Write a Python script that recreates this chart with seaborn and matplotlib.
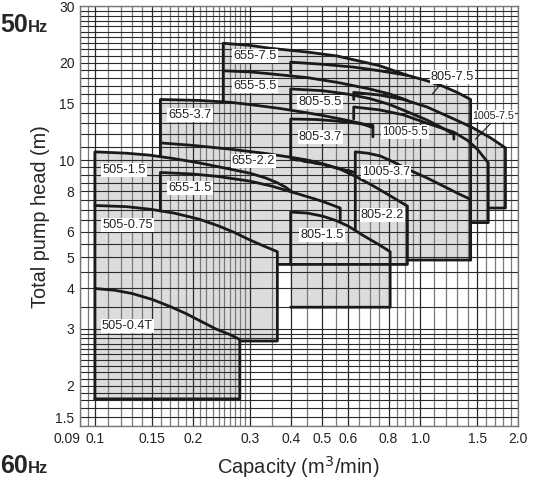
import numpy as np
import matplotlib
matplotlib.use("Agg")
import matplotlib.pyplot as plt
import seaborn as sns

sns.set_theme(style="white")
plt.rcParams["font.family"] = ["Liberation Sans", "DejaVu Sans"]

# ---- axis ticks / grid -------------------------------------------------
x_ticks = [0.09, 0.1, 0.15, 0.2, 0.3, 0.4, 0.5, 0.6, 0.8, 1.0, 1.5, 2.0]
x_tick_labels = ["0.09", "0.1", "0.15", "0.2", "0.3", "0.4", "0.5", "0.6", "0.8", "1.0", "1.5", "2.0"]
y_ticks = [1.5, 2, 3, 4, 5, 6, 8, 10, 15, 20, 30]
y_tick_labels = ["1.5", "2", "3", "4", "5", "6", "8", "10", "15", "20", "30"]

x_grid = ([0.09, 0.095] + [round(0.1 + 0.01 * i, 2) for i in range(21)]
          + [0.35, 0.4, 0.45, 0.5, 0.55, 0.6, 0.65, 0.7, 0.75, 0.8, 0.85, 0.9, 0.95, 1.0]
          + [1.1, 1.2, 1.3, 1.4, 1.5, 1.6, 1.7, 1.8, 1.9, 2.0])
x_grid_major = [0.1, 0.15, 0.2, 0.3, 0.4, 0.5, 0.6, 0.8, 1.0, 1.5, 2.0]
y_grid = ([round(1.5 + 0.1 * i, 1) for i in range(16)]
          + [3.5, 4, 4.5, 5, 5.5, 6, 6.5, 7, 7.5, 8, 8.5, 9, 9.5]
          + list(range(10, 31)))

# ---- operating ranges: (Q m3/min, H m) outline, NaN = gap in the outline ----
# fq/fh are hidden vertices that only close the shaded area
models = {
    "505-0.4T": dict(
        q=[0.1, 0.1, 0.115, 0.13, 0.15, 0.17, 0.19, 0.21, 0.235, 0.26, 0.279, 0.279, 0.1],
        h=[1.82, 4.0, 3.95, 3.86, 3.7, 3.52, 3.35, 3.18, 3.0, 2.88, 2.78, 1.82, 1.82],
        fq=[], fh=[]),
    "505-0.75": dict(
        q=[0.1, 0.1, 0.125, 0.148, 0.175, 0.209, 0.24, 0.27, 0.3, 0.33, 0.364, 0.364, 0.279],
        h=[4.0, 7.23, 7.17, 7.04, 6.85, 6.56, 6.25, 5.95, 5.65, 5.42, 5.2, 2.75, 2.75],
        fq=[0.1], fh=[2.75]),
    "505-1.5": dict(
        q=[0.1, 0.1, 0.125, 0.148, 0.175, 0.209, 0.25, 0.3, 0.335, 0.364, 0.385, 0.405],
        h=[7.23, 10.6, 10.5, 10.35, 10.1, 9.8, 9.45, 9.1, 8.8, 8.5, 8.25, 7.95],
        fq=[0.405, 0.1], fh=[4.75, 4.75]),
    "655-1.5": dict(
        q=[0.159, 0.159, 0.2, 0.238, 0.3, 0.35, 0.405, 0.45, 0.5, 0.568, 0.568],
        h=[6.95, 9.15, 9.05, 8.9, 8.6, 8.3, 7.95, 7.7, 7.45, 7.1, 6.45],
        fq=[0.568, 0.159], fh=[4.75, 4.75]),
    "655-2.2": dict(
        q=[0.159, 0.159, 0.2, 0.262, 0.33, 0.4, 0.45, 0.5, 0.57, 0.64, 0.72, 0.8, 0.914,
           0.914, 0.809, np.nan, 0.4, 0.364],
        h=[10.25, 11.3, 11.1, 10.8, 10.5, 10.2, 10.0, 9.75, 9.35, 8.85, 8.3, 7.8, 7.2,
           4.75, 4.75, np.nan, 4.75, 4.75],
        fq=[0.159], fh=[4.75]),
    "655-3.7": dict(
        q=[0.159, 0.159, 0.209, 0.26, 0.3, 0.37, 0.45, 0.5, 0.58, 0.654, 0.716],
        h=[11.3, 15.4, 15.3, 15.1, 14.85, 14.45, 14.0, 13.75, 13.35, 13.0, 12.6],
        fq=[0.716, 0.159], fh=[7.5, 7.5]),
    "655-5.5": dict(
        q=[0.248, 0.248, 0.3, 0.345, 0.45, 0.556, 0.7, 0.809, 0.914],
        h=[15.2, 18.9, 18.75, 18.5, 18.0, 17.4, 16.6, 16.0, 15.3],
        fq=[0.914, 0.248], fh=[12.0, 12.0]),
    "655-7.5": dict(
        q=[0.248, 0.248, 0.3, 0.345, 0.45, 0.556, 0.75, 0.914],
        h=[18.9, 23.0, 22.65, 22.2, 21.6, 21.0, 19.6, 18.3],
        fq=[0.914], fh=[17.0]),
    "805-1.5": dict(
        q=[0.4, 0.4, 0.45, 0.502, 0.55, 0.6, 0.666, 0.74, 0.809, 0.809, 0.4],
        h=[4.75, 6.9, 6.85, 6.7, 6.5, 6.25, 5.85, 5.5, 5.2, 3.5, 3.5],
        fq=[], fh=[]),
    "805-2.2": dict(
        q=[0.4, 0.5, 0.632],
        h=[10.1, 9.7, 9.15],
        fq=[0.632, 0.4], fh=[6.0, 6.0]),
    "805-3.7": dict(
        q=[0.4, 0.4, 0.48, 0.556, 0.64, 0.716, 0.716],
        h=[10.2, 13.4, 13.35, 13.2, 13.0, 12.8, 11.8],
        fq=[0.4], fh=[10.0]),
    "805-5.5": dict(
        q=[0.4, 0.4, 0.5, 0.6, 0.7, 0.8, 0.9, 1.05, 1.15, 1.27, 1.27],
        h=[14.3, 16.6, 16.4, 16.0, 15.5, 14.9, 14.2, 13.3, 12.7, 12.0, 11.6],
        fq=[1.27, 0.4], fh=[10.0, 10.0]),
    "805-7.5": dict(
        q=[0.4, 0.4, 0.5, 0.625, 0.75, 0.914, 1.05, 1.18, 1.3, 1.43, 1.43],
        h=[18.6, 20.1, 19.8, 19.4, 18.9, 18.3, 17.6, 16.9, 16.2, 15.4, 4.9],
        fq=[0.914, 0.4], fh=[4.9, 4.9]),
    "1005-3.7": dict(
        q=[0.632, 0.632, 0.69, 0.753, 0.83, 0.93, 1.05, 1.18, 1.3, 1.43, 1.43, 0.914],
        h=[6.1, 10.6, 10.5, 10.3, 9.85, 9.3, 8.8, 8.3, 7.9, 7.55, 4.9, 4.9],
        fq=[], fh=[]),
    "1005-5.5": dict(
        q=[0.625, 0.625, 0.75, 0.888, 1.05, 1.27, 1.4, 1.5, 1.62, 1.62, 1.43],
        h=[13.4, 14.6, 14.3, 13.8, 13.0, 12.2, 11.5, 10.8, 9.8, 6.4, 6.4],
        fq=[0.625], fh=[9.0]),
    "1005-7.5": dict(
        q=[0.625, 0.625, 0.75, 0.888, 1.05, 1.27, 1.45, 1.65, 1.83, 1.83, 1.62],
        h=[15.4, 16.2, 15.9, 15.4, 14.6, 13.4, 12.6, 11.7, 10.9, 7.1, 7.1],
        fq=[1.43, 0.625], fh=[7.1, 12.0]),
}
dash_q = [0.405, 0.5, 0.632]
dash_h = [10.05, 9.7, 9.15]

# label positions (Q, H) and font size
labels = {
    "655-7.5": (0.311, 21.0), "655-5.5": (0.311, 16.9), "655-3.7": (0.196, 13.8),
    "805-7.5": (1.256, 18.1), "805-5.5": (0.493, 15.1), "1005-7.5": (1.68, 13.7),
    "805-3.7": (0.493, 11.8), "1005-5.5": (0.9, 12.2), "655-2.2": (0.307, 9.9),
    "1005-3.7": (0.788, 9.2), "505-1.5": (0.123, 9.3), "655-1.5": (0.196, 8.2),
    "805-2.2": (0.765, 6.75), "505-0.75": (0.126, 6.3), "805-1.5": (0.5, 5.85),
    "505-0.4T": (0.126, 3.07),
}
label_size = {"1005-7.5": 7.7, "1005-5.5": 8.3, "1005-3.7": 8.8}
leaders = {"805-7.5": ([1.17, 1.09], [17.4, 16.0]), "1005-7.5": ([1.65, 1.48], [13.0, 11.6])}

fig = plt.figure(figsize=(5.41, 4.80), dpi=100)
ax = fig.add_axes([80 / 541, 1 - 426 / 480, 438 / 541, 420 / 480])
ax.set_xscale("log")
ax.set_yscale("log")
ax.set_xlim(0.09, 2.0)
ax.set_ylim(1.5, 30)

fill_col = "#dcdcdc"
for name, m in models.items():
    pq = [v for v in m["q"] + m["fq"] if not np.isnan(v)]
    ph = [v for v in m["h"] + m["fh"] if not np.isnan(v)]
    ax.fill(pq, ph, color=fill_col, lw=0, zorder=1)

for v in x_grid:
    col = "#2a2a2a" if v in x_grid_major else "#7a7a7a"
    ax.axvline(v, color=col, lw=0.9, zorder=2)
for v in y_grid:
    ax.axhline(v, color="#2a2a2a", lw=0.8, zorder=2)

for name, m in models.items():
    sns.lineplot(x=m["q"], y=m["h"], sort=False, estimator=None, ax=ax,
                 color="#1a1a1a", lw=2.0, zorder=4)
ax.plot(dash_q, dash_h, color="#1a1a1a", lw=2.0, ls=(0, (2, 2)), zorder=4)
for name, (lq, lh) in leaders.items():
    ax.plot(lq, lh, color="#1a1a1a", lw=0.8, zorder=4)

for name, (lq, lh) in labels.items():
    ax.text(lq, lh, name, fontsize=label_size.get(name, 9.2), ha="center", va="center",
            color="#222222", zorder=5,
            bbox=dict(boxstyle="square,pad=0.08", fc="white", ec="none"))

ax.set_xticks(x_ticks)
ax.set_xticklabels(x_tick_labels)
ax.set_yticks(y_ticks)
ax.set_yticklabels(y_tick_labels)
ax.minorticks_off()
ax.tick_params(length=0, labelsize=10, colors="#222222", pad=4)
ax.get_xticklabels()[0].set_horizontalalignment("right")
ax.get_yticklabels()[0].set_verticalalignment("bottom")
for s in ax.spines.values():
    s.set_color("#777777")
    s.set_linewidth(1.0)
    s.set_zorder(6)

fig.text(298 / 541, 1 - 467 / 480, "Capacity (m$^3$/min)", fontsize=14.5, ha="center", va="center")
fig.text(41 / 541, 1 - 217 / 480, "Total pump head (m)", fontsize=14.3, rotation=90,
         ha="center", va="center")
fig.text(0.5 / 541, 1 - 32 / 480, "50", fontsize=18, fontweight="bold", va="baseline", ha="left")
fig.text(28 / 541, 1 - 32 / 480, "Hz", fontsize=12, fontweight="bold", va="baseline", ha="left")
fig.text(0.5 / 541, 1 - 473 / 480, "60", fontsize=18, fontweight="bold", va="baseline", ha="left")
fig.text(28 / 541, 1 - 473 / 480, "Hz", fontsize=12, fontweight="bold", va="baseline", ha="left")

fig.savefig("out.png", dpi=100)
